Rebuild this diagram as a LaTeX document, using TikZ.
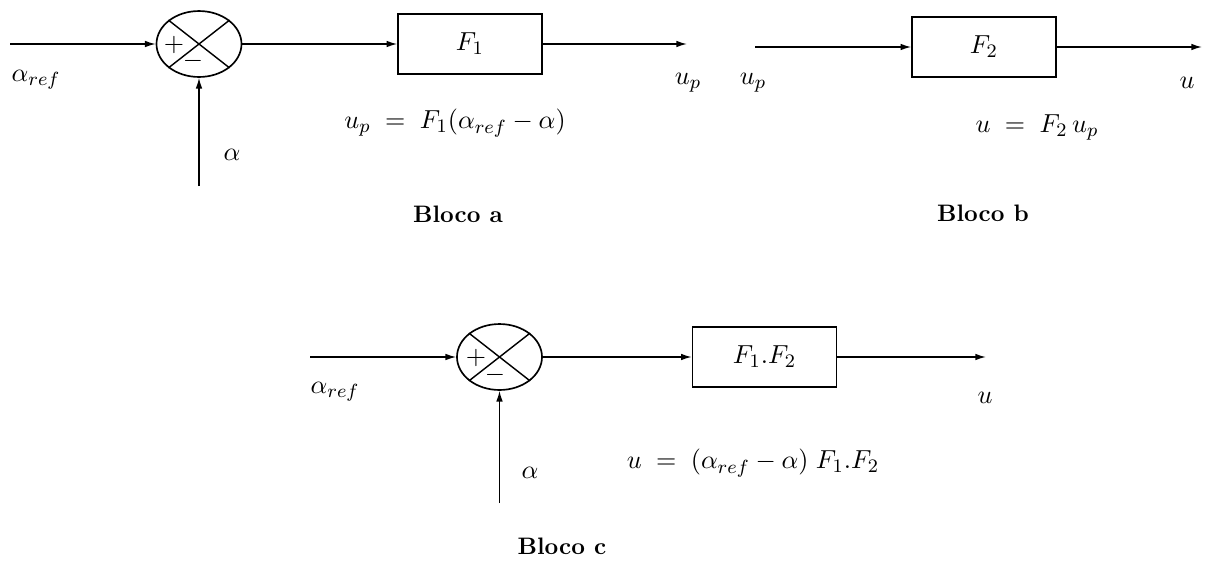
\documentclass[tikz,border=0pt]{standalone}
\usepackage{amsmath,amssymb}
\usetikzlibrary{arrows.meta, positioning, shapes.geometric}

\begin{document}
\begin{tikzpicture}[
  x=0.42pt, y=-0.42pt,
  >={Latex[length=4.5pt, width=2.8pt]},
  line width=0.6pt,
  sumnode/.style={ellipse, draw, line width=0.7pt, minimum width=35.7pt, minimum height=27.7pt, inner sep=0pt},
  blockbox/.style={rectangle, draw, minimum width=60.5pt, minimum height=25.2pt, font=\fontsize{11}{13}\selectfont},
  lbl/.style={font=\fontsize{11}{13}\selectfont},
  bloco/.style={font=\bfseries},
]

\useasboundingbox (0,0) rectangle (1206,575);

% ========================================
% Bloco a
% ========================================
\coordinate (ina) at (10,44);
\node[sumnode] (sa) at (199,44) {};
\node[blockbox] (fa) at (470,44) {$F_1$};
\coordinate (outa) at (687,44);
\coordinate (alfa) at (199,186);

% cross and signs
\draw (sa.142) -- (sa.322);
\draw (sa.38) -- (sa.218);
\node[lbl] (pa) at (174,45) {$+$};
\node[lbl] (ma) at (193,61) {$-$};

\draw[->] (ina) -- (sa);
\draw[->] (sa) -- (fa);
\draw[->] (fa) -- (outa);
\draw[->] (alfa) -- (sa);

\node[lbl, anchor=west, inner sep=0pt] (refa) at (11,80) {$\alpha_{ref}$};
\node[lbl] (upa) at (688,83) {$u_p$};
\node[lbl] (ala) at (232,155) {$\alpha$};
\node[lbl] (eqa) at (455,123) {$u_p \;=\; F_1(\alpha_{ref} - \alpha)$};
\node[bloco] (ba) at (458,214) {Bloco a};

% ========================================
% Bloco b
% ========================================
\coordinate (inb) at (755,47);
\node[blockbox] (fb) at (984,47) {$F_2$};
\coordinate (outb) at (1202,47);

\draw[->] (inb) -- (fb);
\draw[->] (fb) -- (outb);

\node[lbl] (upb) at (753,83) {$u_p$};
\node[lbl] (ub) at (1187,83) {$u$};
\node[lbl] (eqb) at (1037,127) {$u \;=\; F_2\,u_p$};
\node[bloco] (bb) at (983,213) {Bloco b};

% ========================================
% Bloco c
% ========================================
\coordinate (inc) at (310,357);
\node[sumnode] (sc) at (499.5,357) {};
\node[blockbox] (fc) at (764.5,357) {$F_1.F_2$};
\coordinate (outc) at (986,357);
\coordinate (alfc) at (499.5,503);

% cross and signs
\draw (sc.142) -- (sc.322);
\draw (sc.38) -- (sc.218);
\node[lbl] (pc) at (476,358) {$+$};
\node[lbl] (mc) at (495,375) {$-$};

\draw[->] (inc) -- (sc);
\draw[->] (sc) -- (fc);
\draw[->] (fc) -- (outc);
\draw[->] (alfc) -- (sc);

\node[lbl, anchor=west, inner sep=0pt] (refc) at (310,392) {$\alpha_{ref}$};
\node[lbl] (uc) at (985,398) {$u$};
\node[lbl] (alc) at (530,473) {$\alpha$};
\node[lbl] (eqc) at (753,463) {$u \;=\; (\alpha_{ref} - \alpha)\; F_1.F_2$};
\node[bloco] (bc) at (562,546) {Bloco c};

\end{tikzpicture}
\end{document}
